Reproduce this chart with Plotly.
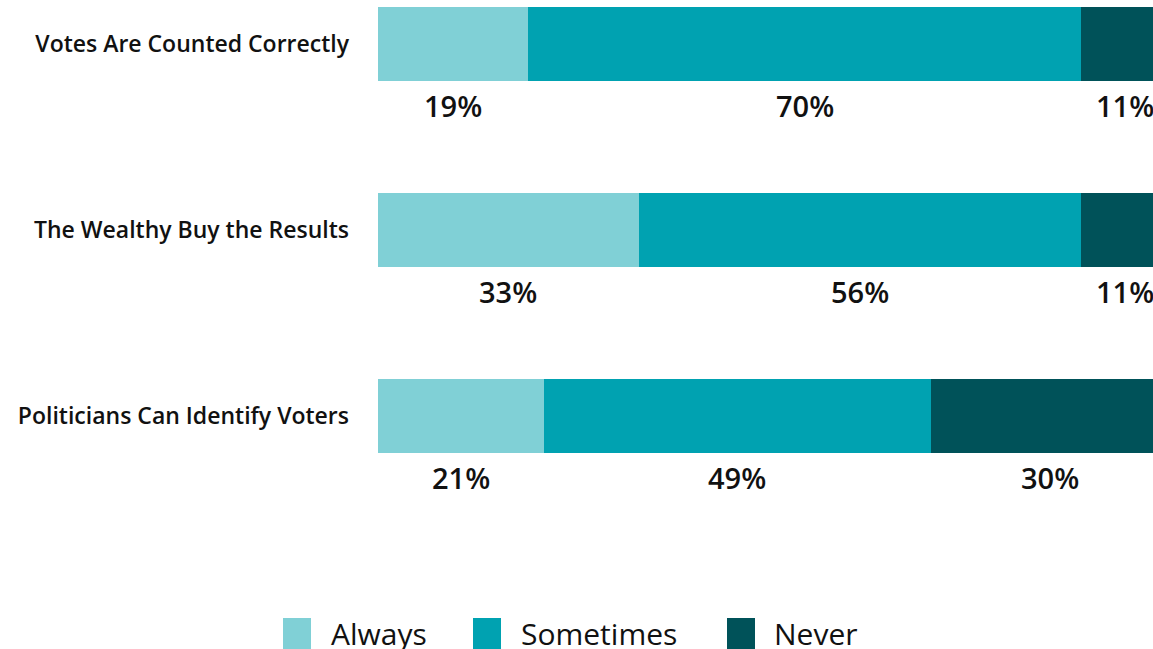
import plotly.graph_objects as go

categories = ["Votes Are Counted Correctly", "The Wealthy Buy the Results", "Politicians Can Identify Voters"]
always = [19, 33, 21]
sometimes = [70, 56, 49]
never = [11, 11, 30]
series_names = ["Always", "Sometimes", "Never"]
colors = ["#80d0d6", "#00a2b1", "#005259"]

W, H = 1153, 649
ML, MT, MB, MR = 378, 0, 49, 0
PW, PH = W - ML - MR, H - MT - MB

def px_x(px):
    return (px - ML) / PW

def px_y(py):
    return (H - MB - py) / PH

FONT = "Open Sans"
fig = go.Figure()
series = [always, sometimes, never]
for name, vals, col in zip(series_names, series, colors):
    fig.add_trace(go.Bar(
        y=categories, x=vals, name=name, orientation="h",
        marker=dict(color=col, line=dict(width=0)), width=0.4,
        showlegend=False, hoverinfo="x+name",
    ))

# percent labels under each segment
for i, cat in enumerate(categories):
    base = 0
    for vals in series:
        v = vals[i]
        fig.add_annotation(
            x=base + v / 2, y=cat, xref="x", yref="y", text=f"{v}%",
            showarrow=False, yshift=-61,
            font=dict(family=FONT, size=29, color="#111111", weight=600),
        )
        base += v

# manual legend
leg = [(283, 329), (473, 519), (727, 772)]
for (sx, tx), name, col in zip(leg, series_names, colors):
    fig.add_shape(type="rect", xref="paper", yref="paper",
                  x0=px_x(sx), x1=px_x(sx + 28), y0=px_y(618), y1=px_y(652),
                  fillcolor=col, line=dict(width=0), layer="above")
    fig.add_annotation(x=px_x(tx), y=px_y(633), xref="paper", yref="paper",
                       text=name, showarrow=False, xanchor="left", yanchor="middle",
                       font=dict(family=FONT, size=30, color="#111111", weight=500))

unit = 186.0
top_val = -44 / unit
bot_val = top_val + PH / unit
fig.update_layout(
    width=W, height=H, barmode="stack",
    margin=dict(l=ML, r=MR, t=MT, b=MB, pad=0),
    plot_bgcolor="white", paper_bgcolor="white",
    xaxis=dict(range=[0, PW / 790 * 100], visible=False, fixedrange=True),
    yaxis=dict(range=[bot_val, top_val], showgrid=False, zeroline=False,
               showline=False, ticks="", ticklabelstandoff=28, fixedrange=True,
               tickfont=dict(family=FONT, size=23, color="#111111", weight=600)),
)
fig.write_html(
    "out.html",
    config={"displayModeBar": False},
    post_script="document.body.style.margin='0';document.body.style.overflow='hidden';",
)
